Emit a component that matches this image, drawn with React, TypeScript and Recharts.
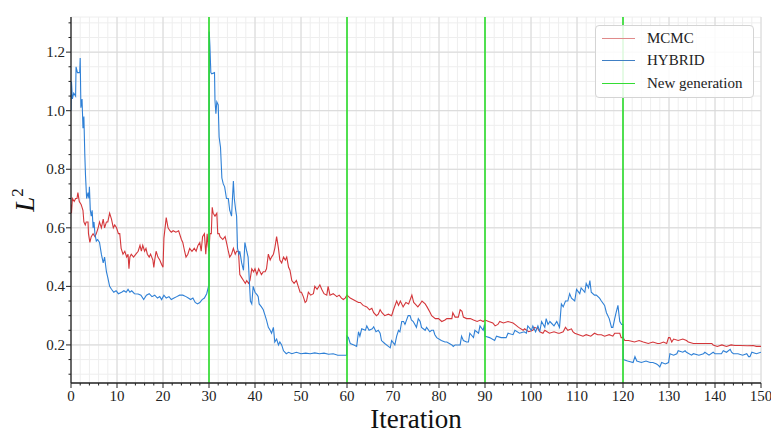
import React from 'react';
import { LineChart, Line, XAxis, YAxis, CartesianGrid, ReferenceLine } from 'recharts';

// [iteration, L^2] readings
const mcmcSeries: [number, number][] = [
  [0, 0.68], [0.1, 0.65], [0.3, 0.7], [0.7, 0.69], [1.0, 0.7], [1.3, 0.7], [1.5, 0.72], [1.8, 0.69],
  [2.2, 0.68], [2.6, 0.66], [2.8, 0.62], [3.1, 0.61], [3.3, 0.62], [3.7, 0.62], [3.8, 0.58], [4.1, 0.55],
  [4.4, 0.57], [4.8, 0.58], [5.2, 0.57], [5.5, 0.58], [5.9, 0.6], [6.2, 0.62], [6.6, 0.6], [7.0, 0.63],
  [7.3, 0.6], [7.7, 0.62], [8.0, 0.62], [8.4, 0.65], [8.8, 0.63], [9.2, 0.6], [9.5, 0.61], [9.9, 0.6],
  [10.3, 0.58], [10.6, 0.58], [10.9, 0.53], [11.3, 0.51], [11.7, 0.52], [12.1, 0.5], [12.4, 0.51],
  [12.6, 0.46], [12.8, 0.5], [13.1, 0.51], [13.6, 0.5], [14.1, 0.51], [14.6, 0.52], [15.0, 0.54],
  [15.3, 0.52], [15.6, 0.54], [16.0, 0.52], [16.3, 0.53], [16.6, 0.51], [17.0, 0.5], [17.3, 0.51],
  [17.8, 0.49], [18.0, 0.465], [18.2, 0.49], [18.5, 0.52], [18.9, 0.5], [19.3, 0.49], [19.7, 0.475],
  [20.0, 0.465], [20.2, 0.565], [20.7, 0.635], [21.1, 0.6], [21.5, 0.59], [21.8, 0.585], [22.2, 0.59],
  [22.8, 0.585], [23.4, 0.59], [24.0, 0.56], [24.3, 0.55], [24.7, 0.52], [25.0, 0.5], [25.4, 0.51],
  [25.8, 0.53], [26.3, 0.52], [26.8, 0.53], [27.2, 0.52], [27.6, 0.54], [28.0, 0.55], [28.3, 0.52],
  [28.6, 0.57], [29.0, 0.58], [29.3, 0.51], [29.6, 0.58], [29.8, 0.54], [30.0, 0.52], [30.2, 0.58],
  [30.5, 0.58], [30.7, 0.67], [30.9, 0.65], [31.3, 0.64], [31.7, 0.65], [31.9, 0.58], [32.2, 0.58],
  [32.4, 0.57], [33.0, 0.56], [33.5, 0.57], [33.8, 0.55], [34.2, 0.52], [34.5, 0.5], [34.9, 0.51],
  [35.3, 0.53], [35.7, 0.51], [36.0, 0.52], [36.4, 0.52], [36.7, 0.44], [37.1, 0.43], [37.5, 0.42],
  [37.9, 0.41], [38.2, 0.42], [38.6, 0.41], [38.9, 0.42], [39.3, 0.46], [39.7, 0.45], [40.0, 0.46],
  [40.4, 0.44], [40.8, 0.46], [41.4, 0.44], [41.8, 0.45], [42.2, 0.45], [42.5, 0.46], [42.9, 0.51],
  [43.3, 0.49], [43.6, 0.5], [44.0, 0.51], [44.3, 0.53], [44.7, 0.57], [45.1, 0.53], [45.4, 0.49],
  [45.8, 0.48], [46.2, 0.5], [46.6, 0.49], [46.9, 0.5], [47.3, 0.465], [47.6, 0.455], [48.0, 0.42],
  [48.5, 0.41], [49.0, 0.42], [49.4, 0.4], [49.8, 0.38], [50.1, 0.38], [50.5, 0.365], [50.9, 0.345],
  [51.2, 0.35], [51.6, 0.38], [52.1, 0.37], [52.7, 0.375], [53.0, 0.4], [53.5, 0.39], [54.1, 0.405],
  [54.5, 0.39], [55.0, 0.375], [55.6, 0.37], [55.9, 0.4], [56.3, 0.37], [57.0, 0.375], [57.4, 0.37],
  [57.8, 0.365], [58.3, 0.37], [58.8, 0.36], [59.2, 0.355], [59.6, 0.36], [60.0, 0.37], [60.7, 0.36],
  [61.3, 0.355], [61.9, 0.35], [62.5, 0.345], [62.9, 0.345], [63.5, 0.335], [64.3, 0.33], [64.9, 0.32],
  [65.4, 0.325], [65.8, 0.31], [66.4, 0.3], [66.8, 0.305], [67.2, 0.32], [67.6, 0.31], [68.2, 0.3],
  [69.0, 0.305], [69.7, 0.3], [70.1, 0.32], [70.8, 0.35], [71.2, 0.335], [71.6, 0.35], [72.2, 0.33],
  [72.8, 0.345], [73.4, 0.34], [74.1, 0.37], [74.5, 0.345], [74.8, 0.34], [75.4, 0.33], [75.9, 0.34],
  [76.3, 0.35], [77.0, 0.34], [77.4, 0.33], [78.1, 0.31], [78.4, 0.3], [79.2, 0.29], [79.9, 0.29],
  [80.6, 0.28], [81.3, 0.285], [81.7, 0.29], [82.3, 0.29], [82.8, 0.29], [83.0, 0.31], [83.5, 0.295],
  [84.2, 0.295], [84.6, 0.32], [85.0, 0.315], [85.3, 0.295], [86.0, 0.29], [86.8, 0.29], [87.5, 0.285],
  [88.3, 0.28], [89.0, 0.285], [89.6, 0.28], [90.0, 0.285], [90.8, 0.28], [91.7, 0.275], [92.2, 0.265],
  [92.8, 0.27], [93.2, 0.28], [94.0, 0.275], [95.0, 0.28], [96.1, 0.275], [96.5, 0.27], [97.3, 0.26],
  [98.3, 0.25], [98.6, 0.255], [99.5, 0.245], [100.4, 0.25], [100.8, 0.26], [101.5, 0.255],
  [101.9, 0.245], [102.6, 0.24], [103.0, 0.25], [104.0, 0.24], [105.0, 0.245], [105.9, 0.24],
  [106.2, 0.24], [107.0, 0.245], [107.5, 0.26], [108.0, 0.25], [108.8, 0.255], [109.1, 0.245],
  [109.5, 0.24], [110.4, 0.235], [111.3, 0.23], [112.0, 0.235], [113.0, 0.23], [113.8, 0.24],
  [114.5, 0.235], [115.3, 0.235], [116.0, 0.23], [117.0, 0.235], [117.8, 0.23], [118.2, 0.24],
  [119.0, 0.24], [119.3, 0.24], [119.6, 0.225], [120.0, 0.225], [120.4, 0.215], [121.2, 0.215],
  [122.5, 0.21], [123.5, 0.215], [124.4, 0.21], [125.5, 0.205], [126.5, 0.21], [127.5, 0.205],
  [128.0, 0.205], [128.8, 0.21], [129.5, 0.205], [129.9, 0.225], [130.2, 0.225], [130.6, 0.21],
  [131.0, 0.22], [132.0, 0.215], [133.0, 0.22], [133.8, 0.215], [134.2, 0.21], [135.3, 0.205],
  [136.5, 0.205], [137.5, 0.205], [138.9, 0.205], [139.3, 0.205], [139.6, 0.2], [140.5, 0.195],
  [141.5, 0.2], [142.5, 0.195], [143.5, 0.2], [144.3, 0.198], [145.5, 0.198], [147.0, 0.197],
  [148.3, 0.198], [149.0, 0.195], [150.0, 0.195],
];

const hybridSeries: [number, number][] = [
  [0, 1.0], [0.1, 1.1], [0.3, 1.04], [0.6, 1.06], [1.0, 1.05], [1.1, 1.15], [1.4, 1.13], [1.9, 1.13],
  [2.0, 1.18], [2.15, 1.01], [2.4, 1.04], [2.6, 0.94], [2.8, 0.98], [3.0, 0.85], [3.15, 0.78], [3.4, 0.7],
  [3.7, 0.72], [3.9, 0.7], [4.0, 0.74], [4.2, 0.66], [4.4, 0.64], [4.6, 0.66], [4.8, 0.6], [5.0, 0.62],
  [5.2, 0.58], [5.5, 0.555], [5.8, 0.56], [6.2, 0.55], [6.6, 0.51], [7.0, 0.48], [7.3, 0.5], [7.7, 0.45],
  [8.0, 0.43], [8.4, 0.4], [8.8, 0.39], [9.3, 0.38], [9.8, 0.385], [10.3, 0.375], [11.0, 0.38],
  [11.5, 0.385], [12.0, 0.38], [12.4, 0.39], [12.8, 0.38], [13.2, 0.385], [13.8, 0.375], [14.6, 0.374],
  [15.2, 0.37], [15.8, 0.355], [16.4, 0.37], [17.0, 0.375], [17.6, 0.365], [18.2, 0.37], [18.8, 0.36],
  [19.3, 0.365], [19.7, 0.355], [20.2, 0.37], [20.7, 0.36], [21.3, 0.365], [21.8, 0.355], [22.4, 0.36],
  [23.0, 0.365], [23.6, 0.37], [24.3, 0.37], [25.0, 0.365], [25.5, 0.36], [26.0, 0.355], [26.5, 0.36],
  [27.0, 0.345], [27.5, 0.34], [28.0, 0.345], [28.5, 0.355], [29.0, 0.36], [29.5, 0.375], [29.9, 0.4],
  [30.0, 0.4], [30.05, 1.27], [30.2, 1.22], [30.4, 1.13], [30.6, 1.126], [31.2, 1.13], [31.3, 1.035],
  [31.5, 0.99], [31.7, 1.03], [32.0, 1.02], [32.2, 0.91], [32.5, 0.875], [32.8, 0.77], [33.1, 0.75],
  [33.4, 0.74], [33.8, 0.7], [34.2, 0.7], [34.5, 0.66], [34.9, 0.64], [35.1, 0.7], [35.3, 0.76],
  [35.5, 0.7], [35.8, 0.66], [36.0, 0.64], [36.2, 0.53], [36.5, 0.51], [36.7, 0.52], [37.1, 0.48],
  [37.5, 0.455], [37.8, 0.55], [38.2, 0.52], [38.5, 0.5], [38.8, 0.41], [39.0, 0.35], [39.3, 0.34],
  [39.6, 0.4], [40.0, 0.38], [40.5, 0.37], [40.7, 0.365], [40.9, 0.34], [41.4, 0.33], [41.8, 0.32],
  [42.2, 0.3], [42.5, 0.285], [42.9, 0.26], [43.3, 0.25], [43.6, 0.24], [44.0, 0.26], [44.3, 0.21],
  [44.7, 0.22], [45.1, 0.2], [45.4, 0.21], [45.8, 0.2], [46.2, 0.18], [46.8, 0.17], [47.3, 0.175],
  [48.0, 0.17], [49.0, 0.175], [50.0, 0.17], [51.0, 0.172], [52.0, 0.17], [53.0, 0.173], [54.0, 0.17],
  [55.0, 0.172], [56.0, 0.168], [57.0, 0.17], [58.0, 0.165], [59.0, 0.165], [59.9, 0.165], [60.0, 0.23],
  [60.3, 0.225], [60.7, 0.205], [61.5, 0.2], [62.1, 0.195], [62.5, 0.245], [62.8, 0.23], [63.2, 0.255],
  [64.0, 0.25], [64.3, 0.265], [64.8, 0.25], [65.5, 0.255], [65.8, 0.262], [66.3, 0.245], [66.8, 0.25],
  [67.2, 0.24], [67.5, 0.215], [68.2, 0.205], [69.0, 0.195], [69.4, 0.19], [69.7, 0.215], [70.4, 0.2],
  [70.8, 0.23], [71.2, 0.25], [71.5, 0.245], [71.9, 0.28], [72.3, 0.28], [72.6, 0.27], [73.3, 0.3],
  [73.7, 0.3], [74.0, 0.285], [74.4, 0.28], [75.1, 0.26], [75.5, 0.29], [75.9, 0.28], [76.2, 0.26],
  [77.0, 0.25], [77.3, 0.26], [78.0, 0.245], [78.4, 0.25], [78.8, 0.25], [79.1, 0.235], [79.5, 0.225],
  [80.5, 0.215], [81.3, 0.21], [81.7, 0.21], [82.8, 0.2], [83.1, 0.195], [83.5, 0.2], [84.6, 0.2],
  [84.9, 0.23], [85.3, 0.215], [86.0, 0.21], [86.4, 0.21], [86.7, 0.24], [87.5, 0.225], [87.8, 0.25],
  [88.6, 0.24], [88.9, 0.265], [89.6, 0.25], [89.9, 0.27], [90.0, 0.23], [91.0, 0.225], [92.1, 0.215],
  [92.5, 0.23], [93.5, 0.225], [94.6, 0.225], [95.0, 0.24], [96.1, 0.235], [96.5, 0.25], [97.5, 0.24],
  [98.5, 0.245], [99.0, 0.24], [99.3, 0.265], [100.1, 0.25], [100.4, 0.265], [101.0, 0.245],
  [101.5, 0.265], [101.9, 0.245], [102.3, 0.28], [103.0, 0.26], [103.3, 0.29], [103.7, 0.27],
  [104.1, 0.28], [105.0, 0.265], [105.6, 0.28], [106.2, 0.26], [106.6, 0.34], [107.0, 0.33],
  [107.5, 0.35], [108.0, 0.35], [108.4, 0.375], [108.8, 0.36], [109.5, 0.35], [109.9, 0.39],
  [110.6, 0.375], [110.9, 0.395], [111.7, 0.38], [112.0, 0.41], [112.5, 0.395], [112.8, 0.42],
  [113.1, 0.38], [113.8, 0.37], [114.2, 0.37], [114.9, 0.36], [115.3, 0.35], [116.0, 0.335],
  [116.4, 0.31], [117.0, 0.29], [117.5, 0.26], [117.8, 0.26], [118.2, 0.29], [118.5, 0.31],
  [118.9, 0.335], [119.3, 0.28], [119.7, 0.27], [120.0, 0.27], [120.05, 0.15], [121.0, 0.145],
  [122.2, 0.14], [122.6, 0.16], [123.0, 0.145], [124.0, 0.14], [125.0, 0.145], [125.9, 0.14],
  [126.5, 0.14], [127.3, 0.135], [127.7, 0.13], [128.0, 0.125], [128.4, 0.14], [129.2, 0.135],
  [129.9, 0.14], [130.2, 0.17], [131.0, 0.165], [131.7, 0.17], [132.0, 0.18], [133.0, 0.175],
  [133.5, 0.18], [133.8, 0.175], [134.9, 0.165], [135.3, 0.17], [136.5, 0.165], [137.5, 0.17],
  [137.8, 0.175], [138.7, 0.165], [139.6, 0.175], [140.0, 0.17], [141.4, 0.17], [141.8, 0.18],
  [142.5, 0.175], [143.3, 0.185], [143.6, 0.175], [144.0, 0.17], [145.0, 0.17], [146.0, 0.165],
  [146.9, 0.17], [147.3, 0.16], [147.6, 0.16], [148.0, 0.175], [149.0, 0.17], [150.0, 0.175],
];

const generations = [30, 60, 90, 120];
const xMajorTicks = [0, 10, 20, 30, 40, 50, 60, 70, 80, 90, 100, 110, 120, 130, 140, 150];
const yMajorTicks = [0.2, 0.4, 0.6, 0.8, 1.0, 1.2];
const yTickLabels = ['0.2', '0.4', '0.6', '0.8', '1.0', '1.2'];
const xAllTicks = Array.from({ length: 76 }, (_, i) => i * 2);
const yAllTicks = Array.from({ length: 25 }, (_, i) => (10 + i * 5) / 100);
const legendItems = [
  { name: 'MCMC', color: '#e08a8a' },
  { name: 'HYBRID', color: '#3f7fc4' },
  { name: 'New generation', color: '#33dd33' },
];

const RED = '#d4363a';
const BLUE = '#2f80d6';
const GREEN = '#2ade2a';
const FONT = '"Liberation Serif", "DejaVu Serif", serif';
const AXIS = '#222';

const mcmcData = mcmcSeries.map(([iter, l2]) => ({ iter, l2 }));
const hybridData = hybridSeries.map(([iter, l2]) => ({ iter, l2 }));

const isMajorX = (v: number) => v % 10 === 0;
const isMajorY = (v: number) => Math.round(v * 100) % 20 === 0;

const XTick = (props: any) => {
  const { x, y, payload } = props;
  const v = payload.value;
  const major = isMajorX(v);
  return (
    <g>
      <line x1={x} x2={x} y1={y} y2={y + (major ? 5 : 2.5)} stroke={AXIS} strokeWidth={1} />
      {major && (
        <text x={x} y={y + 18} textAnchor="middle" fontFamily={FONT} fontSize={15} fill="#222">
          {v}
        </text>
      )}
    </g>
  );
};

const YTick = (props: any) => {
  const { x, y, payload } = props;
  const v = payload.value;
  const major = isMajorY(v);
  const idx = yMajorTicks.findIndex((t) => Math.abs(t - v) < 1e-6);
  return (
    <g>
      <line x1={x} x2={x - (major ? 5 : 2.5)} y1={y} y2={y} stroke={AXIS} strokeWidth={1} />
      {major && idx >= 0 && (
        <text x={x - 6} y={y + 5} textAnchor="end" fontFamily={FONT} fontSize={15} fill="#222">
          {yTickLabels[idx]}
        </text>
      )}
    </g>
  );
};

const XLabel = (props: any) => {
  const vb = props.viewBox || { x: 71, y: 383, width: 690, height: 50 };
  return (
    <text x={vb.x + vb.width / 2} y={vb.y + 45} textAnchor="middle" fontFamily={FONT} fontSize={27} fill="#111">
      Iteration
    </text>
  );
};

const YLabel = (props: any) => {
  const vb = props.viewBox || { x: 0, y: 17, width: 71, height: 366 };
  const cx = vb.x + 34;
  const cy = vb.y + vb.height / 2;
  return (
    <text
      x={cx}
      y={cy}
      transform={`rotate(-90, ${cx}, ${cy})`}
      textAnchor="middle"
      fontFamily={FONT}
      fontSize={27}
      fill="#111"
    >
      <tspan fontStyle="italic">L</tspan>
      <tspan fontSize={17} dy={-11}>2</tspan>
    </text>
  );
};

export default function App() {
  return (
    <div style={{ position: 'absolute', left: 0, top: 0, width: 771, height: 433, background: '#fff' }}>
      <LineChart width={771} height={433} margin={{ top: 17, right: 10, left: 0, bottom: 0 }}>
        <CartesianGrid stroke="#eeeeee" strokeWidth={1} />
        {xMajorTicks.map((v) => (
          <ReferenceLine key={'gx' + v} x={v} stroke="#d8d8d8" strokeWidth={1} />
        ))}
        {yMajorTicks.map((v) => (
          <ReferenceLine key={'gy' + v} y={v} stroke="#d8d8d8" strokeWidth={1} />
        ))}
        <XAxis
          dataKey="iter"
          type="number"
          domain={[0, 150]}
          ticks={xAllTicks}
          interval={0}
          allowDataOverflow
          height={50}
          tickSize={0}
          tickMargin={0}
          tickLine={false}
          tick={<XTick />}
          axisLine={{ stroke: AXIS, strokeWidth: 1.3 }}
          label={<XLabel />}
        />
        <XAxis
          xAxisId="top"
          orientation="top"
          type="number"
          domain={[0, 150]}
          height={0}
          tick={false}
          tickLine={false}
          axisLine={{ stroke: AXIS, strokeWidth: 1.3 }}
        />
        <YAxis
          type="number"
          domain={[0.07, 1.32]}
          ticks={yAllTicks}
          interval={0}
          allowDataOverflow
          width={71}
          tickSize={0}
          tickMargin={0}
          tickLine={false}
          tick={<YTick />}
          axisLine={{ stroke: AXIS, strokeWidth: 1.3 }}
          label={<YLabel />}
        />
        <YAxis
          yAxisId="right"
          orientation="right"
          type="number"
          domain={[0.07, 1.32]}
          width={0}
          tick={false}
          tickLine={false}
          axisLine={{ stroke: AXIS, strokeWidth: 1.3 }}
        />
        <Line
          data={mcmcData}
          dataKey="l2"
          name="MCMC"
          type="linear"
          stroke={RED}
          strokeWidth={1.1}
          dot={false}
          isAnimationActive={false}
        />
        <Line
          data={hybridData}
          dataKey="l2"
          name="HYBRID"
          type="linear"
          stroke={BLUE}
          strokeWidth={1.1}
          dot={false}
          isAnimationActive={false}
        />
        {generations.map((g) => (
          <ReferenceLine key={'gen' + g} x={g} stroke={GREEN} strokeWidth={1.6} />
        ))}
      </LineChart>
      <div
        style={{
          position: 'absolute',
          left: 595,
          top: 25,
          width: 157,
          height: 71,
          border: '1px solid #d4d4d4',
          borderRadius: 4,
          background: 'rgba(255,255,255,0.85)',
          fontFamily: FONT,
          fontSize: 15,
          color: '#222',
        }}
      >
        {legendItems.map((item, i) => (
          <div
            key={item.name}
            style={{
              position: 'absolute',
              left: 6,
              top: 1 + i * 22.5,
              height: 22,
              display: 'flex',
              alignItems: 'center',
              whiteSpace: 'nowrap',
            }}
          >
            <div style={{ width: 33, height: 0, borderTop: `1.5px solid ${item.color}`, marginRight: 12 }} />
            <span>{item.name}</span>
          </div>
        ))}
      </div>
    </div>
  );
}
